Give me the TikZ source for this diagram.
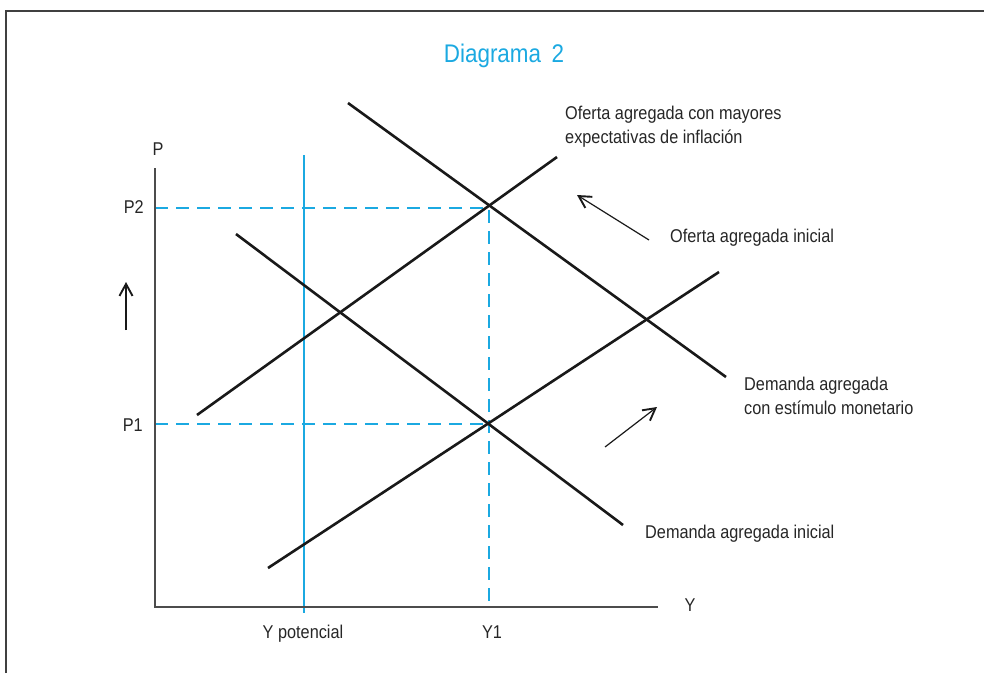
\documentclass[tikz,border=0pt]{standalone}
\usepackage{fontspec}
\setmainfont{Liberation Sans}[FakeStretch=0.88]
\usetikzlibrary{positioning, arrows.meta, calc}
\definecolor{diagblue}{HTML}{1BA9E1}

\begin{document}
\begin{tikzpicture}[
  x=1pt, y=-1pt,
  font=\fontsize{18.5}{24}\selectfont, >={Straight Barb[length=4.2mm, width=4.6mm, line width=1.9pt]},
  curva/.style={line width=2.6pt, black!90},
  eje/.style={line width=2pt, black!70},
  guia/.style={diagblue, line width=1.4pt, dash pattern=on 13pt off 8pt},
  despl/.style={->, line width=1.2pt, black!90},
  lbl/.style={align=left, inner sep=0pt, text=black!85},
]
  \useasboundingbox (0,0) rectangle (984,673);
  \draw[line width=2pt, black!75] (6,673) |- (984,11);

  \node[inner sep=0pt, anchor=base, text=diagblue, font=\fontsize{25.5}{30}\selectfont] (tit) at (504,62) {Diagrama\, 2};

  % axes and equilibria
  \coordinate (o) at (155,607);
  \coordinate (ytop) at (155,168);
  \coordinate (xend) at (658,607);
  \coordinate (e2) at (489,208);
  \coordinate (e1) at (489,424);
  \coordinate (p2) at (155,208);
  \coordinate (p1) at (155,424);
  \coordinate (y1) at (489,607);
  \coordinate (ypa) at (304,155);
  \coordinate (ypb) at (304,613);

  \draw[diagblue, line width=1.4pt] (ypa) -- (ypb);
  \draw[guia] (p2) -- (e2) -- (y1);
  \draw[guia] (p1) -- (e1);
  \draw[eje] (ytop) -- (o) -- (xend);

  \node[lbl] (lp) at (158,149) {P};
  \node[lbl, anchor=east] (lp2) at (144,207) {P2};
  \node[lbl, anchor=east] (lp1) at (143,425) {P1};
  \node[lbl] (ly) at (690,605) {Y};
  \node[lbl, anchor=base] (lyp) at (303,638) {Y potencial};
  \node[lbl, anchor=base] (ly1) at (492,638) {Y1};

  % curves
  \coordinate (oa2a) at (197,415); \coordinate (oa2b) at (557,157);
  \coordinate (oa1a) at (268,568); \coordinate (oa1b) at (719,272);
  \coordinate (da1a) at (236,234); \coordinate (da1b) at (623,525);
  \coordinate (da2a) at (348,103); \coordinate (da2b) at (726,377);
  \draw[curva] (oa2a) -- (oa2b);
  \draw[curva] (oa1a) -- (oa1b);
  \draw[curva] (da1a) -- (da1b);
  \draw[curva] (da2a) -- (da2b);

  \node[lbl, anchor=west] (toa2) at (565,127) {Oferta agregada con mayores\\expectativas de inflación};
  \node[lbl, anchor=base west] (toa1) at (670,242) {Oferta agregada inicial};
  \node[lbl, anchor=west] (tda2) at (744,396) {Demanda agregada\\con estímulo monetario};
  \node[lbl, anchor=base west] (tda1) at (645,538) {Demanda agregada inicial};

  % shifts
  \coordinate (u0) at (126,330); \coordinate (u1) at (126,282);
  \coordinate (s0) at (649,240); \coordinate (s1) at (577,195);
  \coordinate (d0) at (605,447); \coordinate (d1) at (657,407);
  \draw[despl] (u0) -- (u1);
  \draw[despl] (s0) -- (s1);
  \draw[despl] (d0) -- (d1);
\end{tikzpicture}
\end{document}
